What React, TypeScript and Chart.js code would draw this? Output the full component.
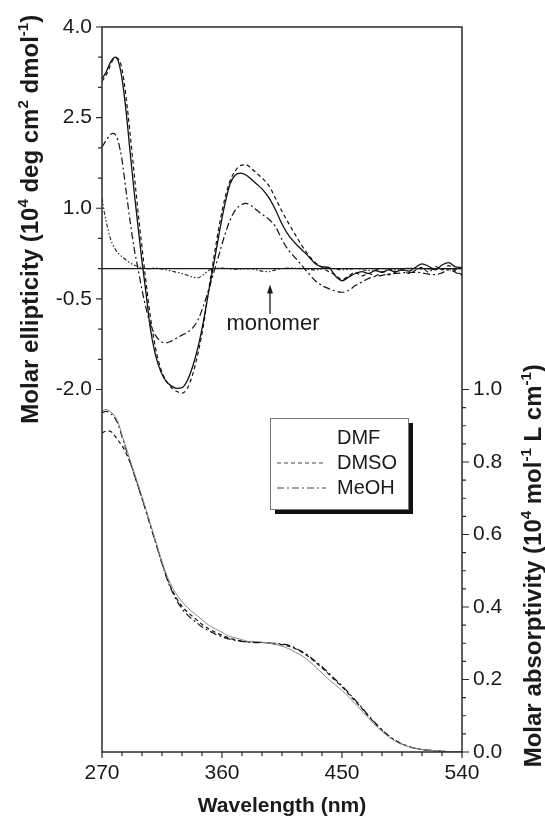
import React, { useEffect, useRef } from "react";
import { Chart, registerables } from "chart.js";
Chart.register(...registerables);

// ---------- CD spectra (left axis, 10^4 deg cm2 dmol-1) ----------
const cdWavelength = [270, 273, 276, 278, 280, 282, 285, 288, 291, 294, 297, 300, 303, 306, 310, 314, 318, 322, 326, 330, 334, 338, 342, 346, 350, 354, 358, 362, 366, 370, 374, 378, 382, 386, 390, 395, 400, 405, 410, 415, 420, 425, 430, 435, 440, 445, 450, 455, 460, 465, 470, 475, 480, 485, 490, 495, 500, 505, 510, 515, 520, 525, 530, 535, 540];
const cdDMF = [3.14, 3.25, 3.4, 3.47, 3.5, 3.45, 3.15, 2.62, 1.95, 1.3, 0.7, 0.12, -0.4, -0.95, -1.42, -1.7, -1.86, -1.94, -1.98, -1.97, -1.85, -1.62, -1.3, -0.88, -0.38, 0.1, 0.6, 1.05, 1.4, 1.55, 1.58, 1.55, 1.48, 1.4, 1.32, 1.18, 0.98, 0.74, 0.55, 0.42, 0.31, 0.2, 0.08, 0.03, 0.02, -0.12, -0.2, -0.14, -0.08, -0.05, -0.08, -0.03, -0.06, -0.02, -0.05, -0.02, -0.04, 0.02, 0.08, 0.04, -0.02, 0.06, 0.1, 0.03, 0.02];
const cdDMSO = [3.1, 3.2, 3.35, 3.45, 3.49, 3.48, 3.3, 2.85, 2.25, 1.6, 0.95, 0.35, -0.22, -0.75, -1.3, -1.65, -1.85, -1.97, -2.03, -2.06, -1.98, -1.75, -1.4, -0.95, -0.35, 0.2, 0.72, 1.15, 1.45, 1.62, 1.71, 1.72, 1.66, 1.58, 1.5, 1.38, 1.17, 0.95, 0.75, 0.56, 0.38, 0.22, 0.1, 0.02, -0.05, -0.1, -0.18, -0.12, -0.06, -0.12, -0.08, -0.12, -0.05, -0.1, -0.06, -0.02, -0.08, -0.03, 0.02, -0.06, 0.04, -0.02, 0.05, -0.04, -0.1];
const cdMeOH = [2.01, 2.12, 2.21, 2.24, 2.22, 2.12, 1.8, 1.3, 0.8, 0.35, 0.0, -0.35, -0.65, -0.9, -1.1, -1.2, -1.23, -1.2, -1.15, -1.1, -1.05, -0.98, -0.85, -0.62, -0.35, -0.05, 0.25, 0.55, 0.8, 0.97, 1.05, 1.08, 1.04, 0.97, 0.9, 0.82, 0.7, 0.48, 0.3, 0.18, 0.05, -0.08, -0.2, -0.28, -0.33, -0.37, -0.39, -0.36, -0.28, -0.22, -0.16, -0.13, -0.11, -0.09, -0.08, -0.07, -0.06, -0.06, -0.07, -0.09, -0.1, -0.07, -0.02, -0.06, -0.12];

const monomerWavelength = [270, 272, 274, 276, 278, 280, 283, 286, 290, 294, 298, 302, 306, 310, 314, 318, 322, 326, 330, 334, 338, 342, 346, 350, 354, 360, 370, 380, 390, 395, 400, 410, 420, 430, 440, 450, 460, 470, 480, 490, 500, 510, 520, 530, 540];
const monomerCD = [1.17, 0.9, 0.7, 0.52, 0.4, 0.32, 0.24, 0.18, 0.11, 0.06, 0.03, 0.01, 0.0, 0.01, 0.0, -0.02, -0.04, -0.06, -0.08, -0.11, -0.14, -0.15, -0.1, -0.03, 0.0, 0.01, -0.01, 0.0, -0.04, -0.05, -0.02, 0.01, 0.0, -0.02, 0.01, -0.02, 0.0, -0.03, 0.0, -0.02, 0.01, -0.01, 0.0, -0.02, 0.0];

const baselineWavelength = [270, 540];
const baselineCD = [0, 0];

// ---------- Absorption spectra (right axis, 10^4 mol-1 L cm-1) ----------
const absWavelength = [270, 273, 276, 279, 282, 285, 288, 292, 296, 300, 305, 310, 315, 320, 325, 330, 335, 340, 345, 350, 355, 360, 365, 370, 375, 380, 385, 390, 395, 400, 405, 410, 415, 420, 425, 430, 435, 440, 445, 450, 455, 460, 465, 470, 475, 480, 485, 490, 495, 500, 505, 510, 515, 520, 525, 530, 535, 540];
const absDMF = [0.94, 0.945, 0.94, 0.93, 0.91, 0.875, 0.84, 0.795, 0.75, 0.705, 0.645, 0.585, 0.525, 0.475, 0.44, 0.415, 0.395, 0.38, 0.365, 0.35, 0.34, 0.33, 0.32, 0.315, 0.31, 0.305, 0.305, 0.303, 0.3, 0.297, 0.292, 0.285, 0.275, 0.265, 0.252, 0.235, 0.218, 0.2, 0.185, 0.17, 0.152, 0.133, 0.113, 0.093, 0.074, 0.057, 0.042, 0.03, 0.021, 0.015, 0.01, 0.007, 0.005, 0.003, 0.002, 0.001, 0.001, 0.0];
const absDMSO = [0.88, 0.885, 0.885, 0.875, 0.86, 0.845, 0.825, 0.79, 0.745, 0.7, 0.642, 0.582, 0.522, 0.468, 0.43, 0.402, 0.383, 0.368, 0.352, 0.34, 0.33, 0.322, 0.315, 0.31, 0.306, 0.304, 0.303, 0.302, 0.3, 0.298, 0.296, 0.292, 0.285, 0.275, 0.263, 0.248, 0.232, 0.215, 0.197, 0.18, 0.16, 0.14, 0.12, 0.098, 0.078, 0.06, 0.044, 0.031, 0.022, 0.015, 0.01, 0.007, 0.005, 0.003, 0.002, 0.001, 0.001, 0.0];
const absMeOH = [0.935, 0.94, 0.935, 0.925, 0.905, 0.87, 0.835, 0.79, 0.745, 0.7, 0.64, 0.58, 0.52, 0.465, 0.425, 0.395, 0.375, 0.36, 0.345, 0.335, 0.325, 0.318, 0.312, 0.308, 0.305, 0.303, 0.302, 0.302, 0.301, 0.3, 0.298, 0.294, 0.287, 0.277, 0.265, 0.25, 0.235, 0.218, 0.2, 0.183, 0.163, 0.143, 0.122, 0.1, 0.08, 0.061, 0.045, 0.032, 0.022, 0.015, 0.01, 0.007, 0.005, 0.003, 0.002, 0.001, 0.001, 0.0];

// ---------- Axis / label text ----------
const xTickLabels = [270, 360, 450, 540];
const leftTickLabels = [-2.0, -0.5, 1.0, 2.5, 4.0];
const rightTickLabels = [0.0, 0.2, 0.4, 0.6, 0.8, 1.0];
const legendNames = ["DMF", "DMSO", "MeOH"];
const xTitle = "Wavelength (nm)";
const leftTitle: [string, boolean][] = [["Molar ellipticity (10", false], ["4", true], [" deg cm", false], ["2", true], [" dmol", false], ["-1", true], [")", false]];
const rightTitle: [string, boolean][] = [["Molar absorptivity (10", false], ["4", true], [" mol", false], ["-1", true], [" L cm", false], ["-1", true], [")", false]];
const annotationText = "monomer";
const annotationWavelength = 396;

const FONT = "'Liberation Sans', Arial, sans-serif";
const INK = "#1a1a1a";
const DASH_DMSO = [4, 3];
const DASH_MEOH = [7, 3, 2, 3];
const DASH_MONO = [4, 2, 1.5, 2, 1.5, 2];

const toPts = (xs: number[], ys: number[]) => xs.map((x, i) => ({ x, y: ys[i] }));
const near = (a: number, b: number) => Math.abs(a - b) < 1e-6;

function drawRich(ctx: CanvasRenderingContext2D, segs: [string, boolean][], size: number) {
  const supSize = Math.round(size * 0.62);
  const widths = segs.map(([t, sup]) => {
    ctx.font = `bold ${sup ? supSize : size}px ${FONT}`;
    return ctx.measureText(t).width;
  });
  const total = widths.reduce((a, b) => a + b, 0);
  let x = -total / 2;
  segs.forEach(([t, sup], i) => {
    ctx.font = `bold ${sup ? supSize : size}px ${FONT}`;
    ctx.fillText(t, x, sup ? -size * 0.42 : 0);
    x += widths[i];
  });
}

const decorPlugin = {
  id: "decor",
  afterDatasetsDraw(chart: any) {
    const ctx: CanvasRenderingContext2D = chart.ctx;
    const { left, right, top, bottom } = chart.chartArea;
    const xs = chart.scales.x;
    const yl = chart.scales.yL;
    const yr = chart.scales.yR;
    ctx.save();
    // frame
    ctx.strokeStyle = "#2a2a2a";
    ctx.lineWidth = 1.5;
    ctx.strokeRect(left, top, right - left, bottom - top);
    // ticks
    ctx.lineWidth = 1.2;
    ctx.beginPath();
    xs.ticks.forEach((t: any) => {
      const px = xs.getPixelForValue(t.value);
      const major = xTickLabels.some((v) => near(v, t.value));
      ctx.moveTo(px, bottom);
      ctx.lineTo(px, bottom + (major ? 6 : 4));
    });
    yl.ticks.forEach((t: any) => {
      if (t.value < -2 - 1e-6) return;
      const py = yl.getPixelForValue(t.value);
      const major = leftTickLabels.some((v) => near(v, t.value));
      ctx.moveTo(left, py);
      ctx.lineTo(left - (major ? 6 : 4), py);
    });
    yr.ticks.forEach((t: any) => {
      if (t.value > 1 + 1e-6) return;
      const py = yr.getPixelForValue(t.value);
      const major = rightTickLabels.some((v) => near(v, t.value));
      ctx.moveTo(right, py);
      ctx.lineTo(right + (major ? 7 : 4), py);
    });
    ctx.stroke();

    // titles
    ctx.fillStyle = INK;
    ctx.textBaseline = "alphabetic";
    ctx.textAlign = "left";
    ctx.save();
    ctx.translate(38, (yl.getPixelForValue(4) + yl.getPixelForValue(-2)) / 2 + 11);
    ctx.rotate(-Math.PI / 2);
    drawRich(ctx, leftTitle, 24);
    ctx.restore();
    ctx.save();
    ctx.translate(541, (yr.getPixelForValue(0) + yr.getPixelForValue(1)) / 2 - 5);
    ctx.rotate(-Math.PI / 2);
    drawRich(ctx, rightTitle, 24);
    ctx.restore();
    ctx.font = `bold 21px ${FONT}`;
    ctx.textAlign = "center";
    ctx.fillText(xTitle, (left + right) / 2, 812);

    // legend
    const lx = 270, ly = 418, lw = 138, lh = 91;
    ctx.fillStyle = "#111";
    ctx.fillRect(lx + 5, ly + 5, lw, lh);
    ctx.fillStyle = "#fff";
    ctx.fillRect(lx, ly, lw, lh);
    ctx.strokeStyle = "#777";
    ctx.lineWidth = 1;
    ctx.strokeRect(lx + 0.5, ly + 0.5, lw, lh);
    const rows = [438, 463, 488];
    const dashes = [null, DASH_DMSO, DASH_MEOH];
    ctx.font = `20px ${FONT}`;
    ctx.textAlign = "left";
    ctx.textBaseline = "middle";
    legendNames.forEach((name, i) => {
      const d = dashes[i];
      if (d) {
        ctx.strokeStyle = "#444";
        ctx.lineWidth = 1;
        ctx.setLineDash(d);
        ctx.beginPath();
        ctx.moveTo(277, rows[i]);
        ctx.lineTo(326, rows[i]);
        ctx.stroke();
        ctx.setLineDash([]);
      }
      ctx.fillStyle = INK;
      ctx.fillText(name, 337, rows[i]);
    });

    // monomer annotation
    const ax = xs.getPixelForValue(annotationWavelength);
    const tipY = yl.getPixelForValue(-0.26);
    const tailY = yl.getPixelForValue(-0.75);
    ctx.strokeStyle = INK;
    ctx.lineWidth = 1.3;
    ctx.beginPath();
    ctx.moveTo(ax, tailY);
    ctx.lineTo(ax, tipY + 6);
    ctx.stroke();
    ctx.fillStyle = INK;
    ctx.beginPath();
    ctx.moveTo(ax, tipY);
    ctx.lineTo(ax - 3, tipY + 9);
    ctx.lineTo(ax + 3, tipY + 9);
    ctx.closePath();
    ctx.fill();
    ctx.font = `22px ${FONT}`;
    ctx.textAlign = "center";
    ctx.textBaseline = "middle";
    ctx.fillText(annotationText, ax + 3, yl.getPixelForValue(-0.92));
    ctx.restore();
  },
};

export default function App() {
  const ref = useRef<HTMLCanvasElement | null>(null);
  useEffect(() => {
    if (!ref.current) return;
    const line = (data: any[], axis: string, color: string, width: number, dash: number[] = []) => ({
      data,
      yAxisID: axis,
      borderColor: color,
      borderWidth: width,
      borderDash: dash,
      pointRadius: 0,
      fill: false,
      cubicInterpolationMode: "monotone" as const,
    });
    const chart = new Chart(ref.current, {
      type: "line",
      data: {
        datasets: [
          line(toPts(baselineWavelength, baselineCD), "yL", INK, 1.3),
          line(toPts(monomerWavelength, monomerCD), "yL", "#222", 1.1, DASH_MONO),
          line(toPts(cdWavelength, cdMeOH), "yL", "#111", 1.2, DASH_MEOH),
          line(toPts(cdWavelength, cdDMSO), "yL", "#111", 1.2, DASH_DMSO),
          line(toPts(cdWavelength, cdDMF), "yL", "#111", 1.3),
          line(toPts(absWavelength, absDMF), "yR", "#8a8a8a", 1),
          line(toPts(absWavelength, absDMSO), "yR", "#111", 1.2, DASH_DMSO),
          line(toPts(absWavelength, absMeOH), "yR", "#111", 1.2, DASH_MEOH),
        ],
      },
      options: {
        animation: false,
        responsive: false,
        layout: { padding: { top: 27, left: 0, right: 0, bottom: 0 } },
        plugins: { legend: { display: false }, tooltip: { enabled: false } },
        scales: {
          x: {
            type: "linear",
            min: 270,
            max: 540,
            grid: { display: false, drawTicks: false },
            border: { display: false },
            ticks: {
              stepSize: 15,
              autoSkip: false,
              maxRotation: 0,
              padding: 9,
              color: INK,
              font: { family: FONT, size: 21 },
              callback: (v: any) => (xTickLabels.some((t) => near(t, Number(v))) ? String(Math.round(Number(v))) : ""),
            },
            afterFit: (s: any) => { s.height = 71; },
          },
          yL: {
            type: "linear",
            position: "left",
            min: -8,
            max: 4,
            grid: { display: false, drawTicks: false },
            border: { display: false },
            ticks: {
              stepSize: 0.5,
              autoSkip: false,
              padding: 10,
              color: INK,
              font: { family: FONT, size: 21 },
              callback: (v: any) => (leftTickLabels.some((t) => near(t, Number(v))) ? Number(v).toFixed(1) : ""),
            },
            afterFit: (s: any) => { s.width = 102; },
          },
          yR: {
            type: "linear",
            position: "right",
            min: 0,
            max: 2,
            grid: { display: false, drawTicks: false },
            border: { display: false },
            ticks: {
              stepSize: 0.05,
              autoSkip: false,
              padding: 11,
              color: INK,
              font: { family: FONT, size: 21 },
              callback: (v: any) => (rightTickLabels.some((t) => near(t, Number(v))) ? Number(v).toFixed(1) : ""),
            },
            afterFit: (s: any) => { s.width = 83; },
          },
        },
      },
      plugins: [decorPlugin],
    });
    return () => chart.destroy();
  }, []);
  return (
    <div style={{ position: "absolute", left: 0, top: 0, width: 545, height: 823, background: "#fff" }}>
      <canvas ref={ref} width={545} height={823} style={{ display: "block" }} />
    </div>
  );
}
